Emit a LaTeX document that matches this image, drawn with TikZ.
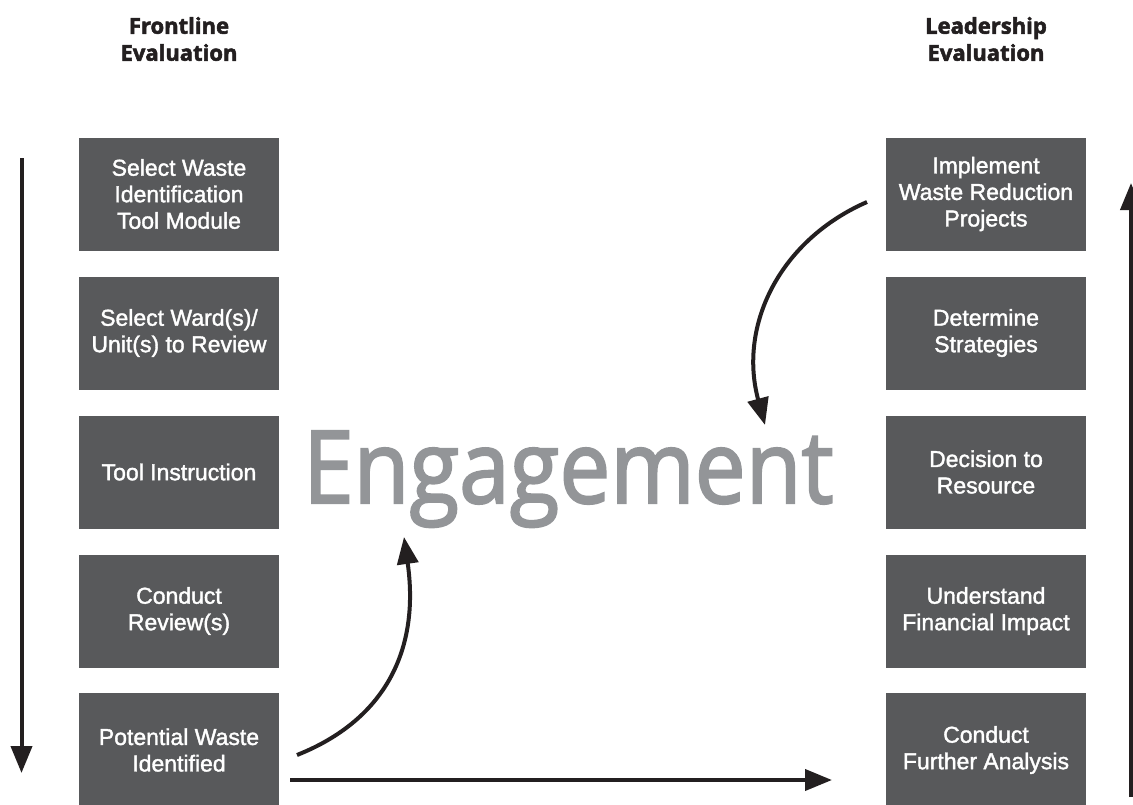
\documentclass[tikz,border=0pt]{standalone}
\usepackage{fontspec}
\setmainfont{Liberation Sans}
\newfontfamily\boxfont{Liberation Sans}[FakeBold=1.6]
\newfontfamily\engfont{Open Sans}[FakeBold=2.2]
\newfontfamily\titlefont{Open Sans Bold}[FakeBold=2.4]
\usetikzlibrary{arrows.meta}
\definecolor{boxgray}{HTML}{58595B}
\definecolor{enggray}{HTML}{939598}
\definecolor{ink}{HTML}{231F20}
\tikzset{
  stepbox/.style={fill=boxgray, text=white, minimum width=200pt, minimum height=113pt,
    inner sep=0pt, align=center, font=\boxfont\fontsize{23}{26.5}\selectfont},
  title/.style={align=center, text=ink, font=\titlefont\fontsize{22}{27}\selectfont},
  flow/.style={draw=ink, line width=4pt, -{Triangle[width=21pt,length=27pt]}}
}
\begin{document}
\begin{tikzpicture}[x=1pt,y=-1pt]
\useasboundingbox (0,0) rectangle (1133,804);
% titles
\node[title] (tl) at (179,39) {Frontline\\Evaluation};
\node[title] (tr) at (986,39) {Leadership\\Evaluation};
% left column
\node[stepbox] (l1) at (179,194) {Select Waste\\Identification\\Tool Module};
\node[stepbox] (l2) at (179,333) {Select Ward(s)/\\Unit(s) to Review};
\node[stepbox] (l3) at (179,472) {Tool Instruction};
\node[stepbox] (l4) at (179,611) {Conduct\\Review(s)};
\node[stepbox, minimum height=114pt] (l5) at (179,750) {Potential Waste\\Identified};
% right column
\node[stepbox] (r1) at (986,194) {Implement\\Waste Reduction\\Projects};
\node[stepbox] (r2) at (986,333) {Determine\\Strategies};
\node[stepbox] (r3) at (986,472) {Decision to\\Resource};
\node[stepbox] (r4) at (986,611) {Understand\\Financial Impact};
\node[stepbox, minimum height=114pt] (r5) at (986,750) {Conduct\\Further Analysis};
% center word
\node[anchor=base west, inner sep=0pt, text=enggray] (eng) at (303,503)
  {\resizebox{530pt}{72pt}{\engfont Engagement}};
% coordinates
\coordinate (la) at (21.5,158);
\coordinate (lb) at (21.5,773);
\coordinate (ra) at (1131,797);
\coordinate (rb) at (1131,183);
\coordinate (ha) at (290,780);
\coordinate (hb) at (832,780);
\coordinate (c1a) at (297,755);
\coordinate (c1b) at (404,537);
\coordinate (c2a) at (867,202);
\coordinate (c2b) at (765,425);
% arrows
\draw[flow] (la) -- (lb);
\draw[flow] (ra) -- (rb);
\draw[flow] (ha) -- (hb);
\draw[flow] (c1a) .. controls (385,720) and (420,650) .. (c1b);
\draw[flow] (c2a) .. controls (780,240) and (738,325) .. (c2b);
\end{tikzpicture}
\end{document}
